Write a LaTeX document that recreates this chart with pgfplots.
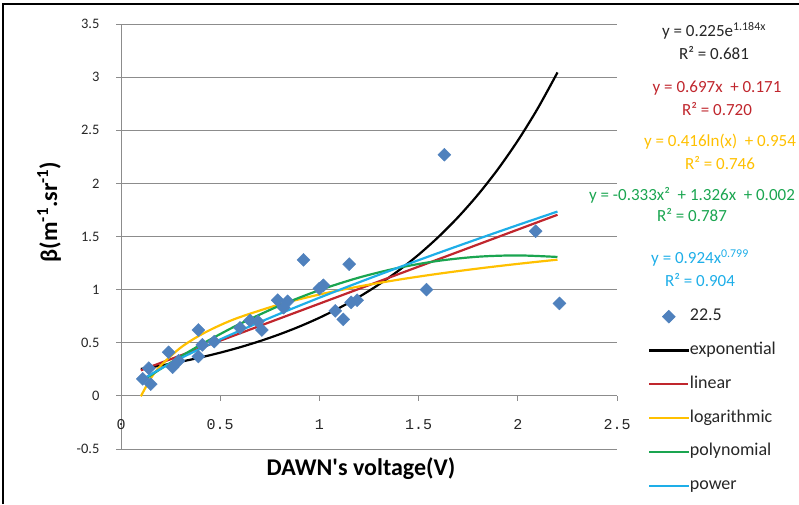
\documentclass[border=0pt]{standalone}
\usepackage{fontspec}
\setmainfont{Carlito}
\newfontfamily\calnolig{Carlito}
\newfontfamily\monofont{Liberation Mono}
\usepackage{pgfplots}
\pgfplotsset{compat=1.18}
\definecolor{ptblue}{HTML}{4F81BD}
\definecolor{linred}{HTML}{C0262D}
\definecolor{logyel}{HTML}{FFC000}
\definecolor{polgrn}{HTML}{1AA550}
\definecolor{powcya}{HTML}{1EAEE8}
\definecolor{gridgray}{HTML}{8C8C8C}
\definecolor{txt}{HTML}{262626}

\begin{document}
\begin{tikzpicture}
\path[use as bounding box] (0pt,0pt) rectangle (799pt,504pt);
\begin{axis}[
  at={(121pt,55pt)}, anchor=south west,
  scale only axis, width=496pt, height=425pt,
  xmin=0, xmax=2.5, ymin=-0.5, ymax=3.5,
  xtick={0,0.5,1,1.5,2,2.5},
  ytick={-0.5,0,0.5,1,1.5,2,2.5,3,3.5},
  axis x line*=middle, axis y line*=left,
  axis line style={draw=gridgray, line width=0.9pt},
  ymajorgrids, major grid style={draw=gridgray, line width=0.9pt},
  tick align=outside, major tick length=5pt,
  tick style={draw=gridgray, line width=0.9pt},
  /pgf/number format/assume math mode=true,
  yticklabel style={font=\fontsize{14.5}{16}\selectfont, text=txt, xshift=-13pt},
  xticklabel style={font=\monofont\fontsize{15}{16}\selectfont, text=txt, yshift=-15pt},
  clip=false,
  legend image code/.code={\draw[mark repeat=2,mark phase=2,#1] plot coordinates {(0pt,0pt) (19.5pt,0pt) (39pt,0pt)};},
  legend style={at={(axis description cs:1.0625,0.3318)}, anchor=north west, draw=none, fill=none,
    inner sep=0pt, row sep=16.8pt, font=\fontsize{18}{20}\selectfont,
    nodes={text height=12pt, text depth=4pt, inner sep=0.5pt, text=txt}},
  legend cell align=left,
]
\addplot[only marks, mark=square*, mark size=4.6pt, color=ptblue,
  mark options={rotate=45, draw=ptblue, fill=ptblue}] coordinates {
  (0.11,0.16) (0.14,0.26) (0.15,0.11) (0.24,0.41) (0.26,0.27) (0.29,0.33)
  (0.39,0.62) (0.39,0.37) (0.41,0.48) (0.47,0.51) (0.60,0.64) (0.65,0.71)
  (0.69,0.70) (0.71,0.62) (0.79,0.90) (0.82,0.83) (0.84,0.89) (0.92,1.28)
  (1.00,1.01) (1.02,1.04) (1.08,0.80) (1.12,0.72) (1.15,1.24) (1.16,0.88)
  (1.19,0.90) (1.54,1.00) (1.63,2.27) (2.09,1.55) (2.21,0.87)};
\addlegendentry{22.5}
% exponential trend
\addplot[black, line width=2.2pt, smooth, mark=none] coordinates {
  (0.1,0.2533) (0.2,0.2851) (0.3,0.3210) (0.4,0.3613) (0.5,0.4067) (0.6,0.4578)
  (0.7,0.5154) (0.8,0.5802) (0.9,0.6531) (1.0,0.7352) (1.1,0.8276) (1.2,0.9316)
  (1.3,1.0487) (1.4,1.1805) (1.5,1.3289) (1.6,1.4960) (1.7,1.6840) (1.8,1.8957)
  (1.9,2.1340) (2.0,2.4022) (2.1,2.7040) (2.2,3.0440)};
\addlegendentry{exponential}
% linear trend
\addplot[linred, line width=2.2pt, mark=none] coordinates {(0.1,0.2407) (2.2,1.7044)};
\addlegendentry{linear}
% logarithmic trend
\addplot[logyel, line width=2.2pt, smooth, mark=none] coordinates {
  (0.1,-0.0039) (0.15,0.1648) (0.2,0.2845) (0.3,0.4531) (0.4,0.5728) (0.5,0.6657)
  (0.6,0.7415) (0.8,0.8612) (1.0,0.9540) (1.2,1.0298) (1.4,1.0940) (1.6,1.1495)
  (1.8,1.1985) (2.0,1.2423) (2.2,1.2820)};
\addlegendentry{logarithmic}
% polynomial trend
\addplot[polgrn, line width=2.2pt, smooth, mark=none] coordinates {
  (0.1,0.1313) (0.2,0.2539) (0.3,0.3698) (0.4,0.4791) (0.5,0.5818) (0.6,0.6777)
  (0.8,0.8497) (1.0,0.9950) (1.2,1.1137) (1.4,1.2057) (1.6,1.2711) (1.8,1.3099)
  (2.0,1.3220) (2.2,1.3075)};
\addlegendentry{polynomial}
% power trend
\addplot[powcya, line width=2.2pt, smooth, mark=none] coordinates {
  (0.1,0.1468) (0.2,0.2554) (0.3,0.3532) (0.4,0.4444) (0.5,0.5311) (0.6,0.6144)
  (0.8,0.7731) (1.0,0.9240) (1.2,1.0689) (1.4,1.2090) (1.6,1.3451) (1.8,1.4779)
  (2.0,1.6078) (2.2,1.7349)};
\addlegendentry{power}
% tick label at the origin (dropped by the middle axis line)
\node[font=\monofont\fontsize{15}{16}\selectfont, text=txt, anchor=north, yshift=-20pt] at (axis cs:0,0) {0};
\end{axis}
% outer frame
\draw[black, line width=2.5pt] (3pt,0pt) -- (3pt,500pt) -- (799pt,500pt);
% axis titles
\node[font=\calnolig\bfseries\fontsize{24}{26}\selectfont] at (361pt,35pt) {DAWN's voltage(V)};
\node[font=\bfseries\fontsize{24}{26}\selectfont, rotate=90] at (49pt,292pt)
  {β(m\textsuperscript{-1}.sr\textsuperscript{-1})};
% trend equations
\begin{scope}[font=\fontsize{17}{19}\selectfont]
\node[text=txt] at (714pt,473pt) {y = 0.225e\textsuperscript{1.184x}};
\node[text=txt] at (714pt,451pt) {R² = 0.681};
\node[text=linred] at (717pt,416pt) {y = 0.697x \ + 0.171};
\node[text=linred] at (717pt,395pt) {R² = 0.720};
\node[text=logyel] at (720pt,362pt) {y = 0.416ln(x) \ + 0.954};
\node[text=logyel] at (720pt,341pt) {R² = 0.746};
\node[text=polgrn] at (692pt,309pt) {y = -0.333x² \ + 1.326x \ + 0.002};
\node[text=polgrn] at (692pt,289pt) {R² = 0.787};
\node[text=powcya] at (700pt,246pt) {y = 0.924x\textsuperscript{0.799}};
\node[text=powcya] at (700pt,224pt) {R² = 0.904};
\end{scope}
\end{tikzpicture}
\end{document}
